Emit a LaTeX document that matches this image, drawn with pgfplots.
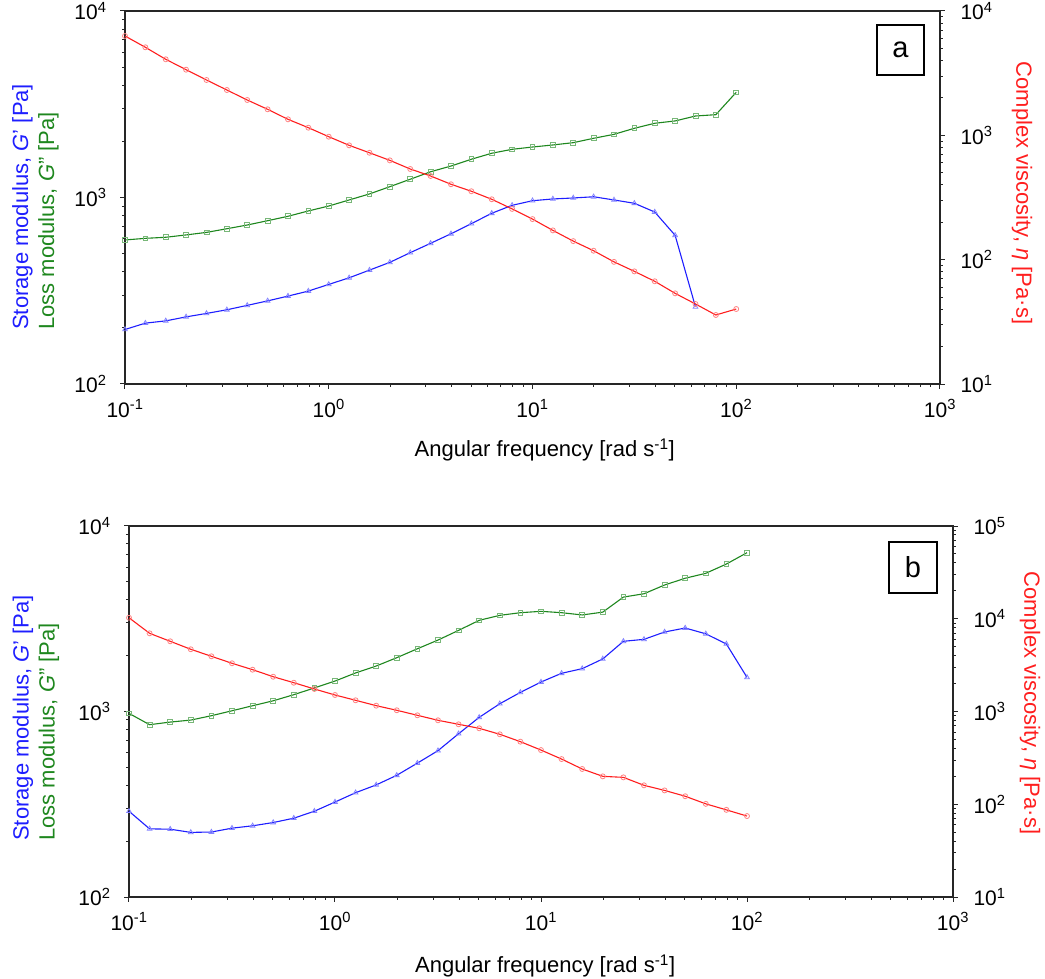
\documentclass[border=0pt]{standalone}
\usepackage{pgfplots}
\pgfplotsset{compat=1.18}
\usepackage{pgfplotstable}
\usepackage{fontspec}
\setmainfont{Liberation Sans}
\definecolor{cb}{RGB}{30,30,255}
\definecolor{cg}{RGB}{30,135,30}
\definecolor{cr}{RGB}{255,30,30}

\pgfplotstableread{
w Gp Gpp eta
0.1 196 592 6295
0.1259 212 604 5105
0.1585 218 612 4087
0.1995 229 630 3373
0.2512 239 650 2786
0.3162 250 680 2315
0.3981 264 712 1924
0.5012 279 751 1619
0.631 296 793 1345
0.7943 315 847 1152
1 342 900 975
1.259 371 970 831
1.585 408 1045 724
1.995 449 1143 629
2.512 506 1253 536
3.162 568 1374 471
3.981 639 1475 404
5.012 724 1604 355
6.31 823 1727 306
7.943 908 1813 256
10 961 1865 212
12.59 982 1913 172
15.85 994 1968 141
19.95 1009 2077 118
25.12 970 2181 96
31.62 931 2350 80.5
39.81 836 2500 67
50.12 627 2573 53.6
63.1 259 2735 44
79.43 nan 2780 35.9
100 nan 3665 40.1
}\tabA

\pgfplotstableread{
w Gp Gpp eta
0.1 290 977 10250
0.1259 233 849 6966
0.1585 232 877 5715
0.1995 223 899 4688
0.2512 224 949 3939
0.3162 235 1009 3311
0.3981 242 1074 2825
0.5012 252 1142 2372
0.631 266 1232 2044
0.7943 290 1340 1749
1 325 1459 1507
1.259 365 1614 1321
1.585 402 1759 1156
1.995 453 1950 1031
2.512 527 2179 910
3.162 615 2427 804
3.981 759 2738 728
5.012 930 3101 659
6.31 1101 3299 568
7.943 1268 3409 473
10 1442 3468 384
12.59 1607 3409 307
15.85 1702 3315 240
19.95 1920 3433 200
25.12 2390 4138 195
31.62 2449 4313 160
39.81 2683 4808 141
50.12 2819 5228 122
63.1 2623 5559 101
79.43 2312 6237 87
100 1528 7180 74.6
}\tabB

\pgfplotsset{
  mybase/.style={
    scale only axis, xmin=0.1, xmax=1000, clip=false,
    tick align=outside, major tick length=5pt, minor tick length=3pt,
    every tick/.style={black!85, line width=1pt},
    axis line style={black!85, line width=1.3pt},
    tick label style={font=\fontsize{21}{21}\selectfont},
    xticklabel style={yshift=-7pt},
    xtick={0.1,1,10,100,1000},
    xticklabels={10\textsuperscript{-1},10\textsuperscript{0},10\textsuperscript{1},10\textsuperscript{2},10\textsuperscript{3}},
    minor xtick={0.2,0.3,0.4,0.5,0.6,0.7,0.8,0.9,2,3,4,5,6,7,8,9,20,30,40,50,60,70,80,90,200,300,400,500,600,700,800,900},
  },
}
\tikzset{
  sGp/.style={color=cb, line width=1.1pt, mark=triangle, mark size=2.7pt, mark options={draw=cb!55, fill=none, line width=0.8pt}},
  sGpp/.style={color=cg, line width=1.1pt, mark=square, mark size=2.4pt, mark options={draw=cg!60, fill=none, line width=0.8pt}},
  sEta/.style={color=cr, line width=1.1pt, mark=o, mark size=2.5pt, mark options={draw=cr!55, fill=none, line width=0.8pt}},
}

\begin{document}
\begin{tikzpicture}
\useasboundingbox (0pt,0pt) rectangle (1045pt,-979pt);

% ---------- panel a ----------
\begin{loglogaxis}[mybase, at={(125pt,-384pt)}, anchor=south west, width=815pt, height=373pt,
  ymin=100, ymax=10000, xtick pos=bottom, ytick pos=left,
  yticklabel style={xshift=-10pt},
  ytick={100,1000,10000},
  yticklabels={10\textsuperscript{2},10\textsuperscript{3},10\textsuperscript{4}},
  minor ytick={200,300,400,500,600,700,800,900,2000,3000,4000,5000,6000,7000,8000,9000},
  xlabel={Angular frequency [rad s\textsuperscript{-1}]},
  xlabel style={at={(axis description cs:0.515,-0.177)}, anchor=center, font=\fontsize{22}{22}\selectfont},
  ylabel={\textcolor{cb}{Storage modulus, \textit{G}’ [Pa]}\\\textcolor{cg}{Loss modulus, \textit{G}” [Pa]}},
  ylabel style={at={(axis description cs:-0.110,0.145)}, anchor=west, align=left, inner sep=0pt, font=\fontsize{22}{26}\selectfont},
]
\addplot[sGpp] table[x=w, y=Gpp] {\tabA};
\addplot[sGp] table[x=w, y=Gp] {\tabA};
\node[draw=black, line width=1.1pt, minimum width=47pt, minimum height=50pt, inner sep=0pt, font=\fontsize{29}{29}\selectfont] at (rel axis cs:0.9515,0.8954) {a};
\end{loglogaxis}
\begin{loglogaxis}[mybase, at={(125pt,-384pt)}, anchor=south west, width=815pt, height=373pt,
  hide x axis, axis y line*=right, ymin=10, ymax=10000,
  yticklabel style={xshift=12pt},
  ytick={10,100,1000,10000},
  yticklabels={10\textsuperscript{1},10\textsuperscript{2},10\textsuperscript{3},10\textsuperscript{4}},
  minor ytick={20,30,40,50,60,70,80,90,200,300,400,500,600,700,800,900,2000,3000,4000,5000,6000,7000,8000,9000},
  ylabel={Complex viscosity, \textit{η} [Pa·s]},
  ylabel style={rotate=180, at={(axis description cs:1.1006,0.512)}, anchor=center, text=cr, font=\fontsize{22}{22}\selectfont},
]
\addplot[sEta] table[x=w, y=eta] {\tabA};
\end{loglogaxis}

% ---------- panel b ----------
\begin{loglogaxis}[mybase, at={(129pt,-897pt)}, anchor=south west, width=824pt, height=371pt,
  ymin=100, ymax=10000, xtick pos=bottom, ytick pos=left,
  yticklabel style={xshift=-10pt},
  ytick={100,1000,10000},
  yticklabels={10\textsuperscript{2},10\textsuperscript{3},10\textsuperscript{4}},
  minor ytick={200,300,400,500,600,700,800,900,2000,3000,4000,5000,6000,7000,8000,9000},
  xlabel={Angular frequency [rad s\textsuperscript{-1}]},
  xlabel style={at={(axis description cs:0.505,-0.186)}, anchor=center, font=\fontsize{22}{22}\selectfont},
  ylabel={\textcolor{cb}{Storage modulus, \textit{G}’ [Pa]}\\\textcolor{cg}{Loss modulus, \textit{G}” [Pa]}},
  ylabel style={at={(axis description cs:-0.113,0.151)}, anchor=west, align=left, inner sep=0pt, font=\fontsize{22}{26}\selectfont},
]
\addplot[sGpp] table[x=w, y=Gpp] {\tabB};
\addplot[sGp] table[x=w, y=Gp] {\tabB};
\node[draw=black, line width=1.1pt, minimum width=48pt, minimum height=51pt, inner sep=0pt, font=\fontsize{29}{29}\selectfont] at (rel axis cs:0.9515,0.888) {b};
\end{loglogaxis}
\begin{loglogaxis}[mybase, at={(129pt,-897pt)}, anchor=south west, width=824pt, height=371pt,
  hide x axis, axis y line*=right, ymin=10, ymax=100000,
  yticklabel style={xshift=12pt},
  ytick={10,100,1000,10000,100000},
  yticklabels={10\textsuperscript{1},10\textsuperscript{2},10\textsuperscript{3},10\textsuperscript{4},10\textsuperscript{5}},
  minor ytick={20,30,40,50,60,70,80,90,200,300,400,500,600,700,800,900,2000,3000,4000,5000,6000,7000,8000,9000,20000,30000,40000,50000,60000,70000,80000,90000},
  ylabel={Complex viscosity, \textit{η} [Pa·s]},
  ylabel style={rotate=180, at={(axis description cs:1.0934,0.523)}, anchor=center, text=cr, font=\fontsize{22}{22}\selectfont},
]
\addplot[sEta] table[x=w, y=eta] {\tabB};
\end{loglogaxis}
\end{tikzpicture}
\end{document}
